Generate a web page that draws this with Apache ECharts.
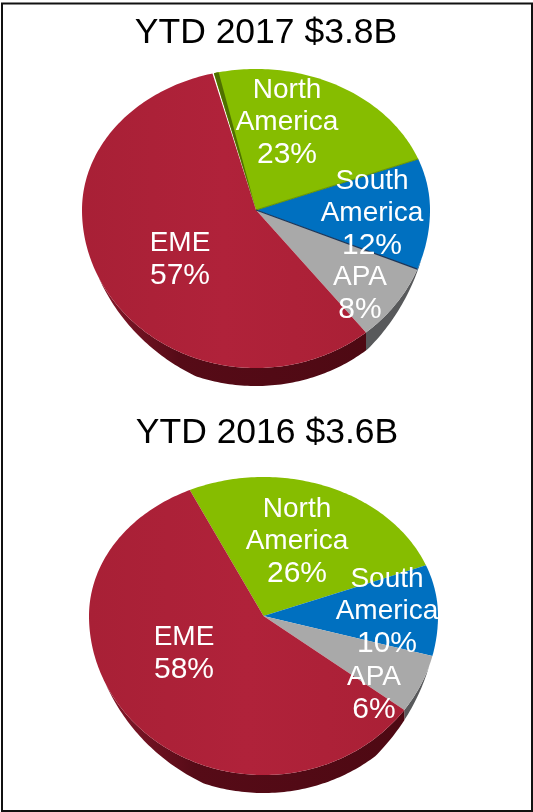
<!DOCTYPE html>
<html>
<head>
<meta charset="utf-8">
<style>
  html, body { margin: 0; padding: 0; background: #fff; }
  #chart { width: 533px; height: 812px; }
</style>
<script src="https://cdn.jsdelivr.net/npm/echarts@6/dist/echarts.min.js"></script>
</head>
<body>
<div id="chart"></div>
<script>
// data
const regions = ['North\nAmerica', 'South\nAmerica', 'APA', 'EME'];
const values2017 = [23, 12, 8, 57];
const values2016 = [26, 10, 6, 58];
const titles = ['YTD 2017 $3.8B', 'YTD 2016 $3.6B'];

// look of the tilted pies, kept apart from the values
const topColors = ['#86bd00', '#0070c0', '#a9a9a9', '#ad2138'];
const wallColors = ['#4f7000', '#00457a', '#58595b', '#560b17'];
const pie2017 = {
  cx: 256, cy: 210, rx: 174, ryTop: 141, ryBottom: 158, depth: 18, start: -14,
  labels: [[287, 123], [372, 214], [360, 294], [180, 260]],
  seams: true
};
const pie2016 = {
  cx: 263.5, cy: 616, rx: 174.5, ryTop: 139, ryBottom: 159, depth: 18, start: -25,
  labels: [[297, 542], [387, 612], [374, 694], [184, 654]],
  seams: false
};

const rad = (d) => d * Math.PI / 180;

// angle is clockwise from the top, the two halves have their own vertical radius
const rim = (p, a, drop) => {
  const c = Math.cos(rad(a));
  return [p.cx + p.rx * Math.sin(rad(a)), p.cy - c * (c > 0 ? p.ryTop : p.ryBottom) + (drop || 0)];
};

const arc = (p, a, b, dropFn) => {
  const pts = [];
  for (let t = a; t < b; t += 1) pts.push(rim(p, t, dropFn ? dropFn(t) : 0));
  pts.push(rim(p, b, dropFn ? dropFn(b) : 0));
  return pts;
};

// side wall fades out towards the widest point of the ellipse
const wallDrop = (p) => (t) => {
  let k = 1;
  if (t < 140) k = (t - 108) / 32;
  if (t > 200) k = (245 - t) / 45;
  return p.depth * Math.max(0, Math.min(1, k));
};

const makeRender = (p, values) => (params, api) => {
  const i = params.dataIndex;
  const total = values.reduce((s, v) => s + v, 0);
  const before = values.slice(0, i).reduce((s, v) => s + v, 0);
  const a0 = p.start + before / total * 360;
  const a1 = a0 + api.value(0) / total * 360;
  const children = [];

  const wa = Math.max(a0, 108);
  const wb = Math.min(a1, 245);
  if (wb > wa) {
    const top = arc(p, wa, wb);
    const bottom = arc(p, wa, wb, wallDrop(p)).reverse();
    children.push({
      type: 'polygon',
      z2: 1,
      shape: { points: top.concat(bottom) },
      style: {
        fill: i === 3
          ? new echarts.graphic.LinearGradient(0, 0, 1, 0, [
              { offset: 0, color: '#86182a' },
              { offset: 0.3, color: '#560b17' },
              { offset: 1, color: '#4e0913' }
            ])
          : wallColors[i]
      }
    });
  }

  const end = (p.seams && i === 3) ? a1 - 0.5 : a1;
  children.push({
    type: 'polygon',
    z2: 2,
    shape: { points: [[p.cx, p.cy]].concat(arc(p, a0, end)) },
    style: {
      fill: i === 3
        ? new echarts.graphic.LinearGradient(0, 0, 1, 0, [
            { offset: 0, color: '#a82036' },
            { offset: 0.5, color: '#b0223a' },
            { offset: 1, color: '#aa2036' }
          ])
        : topColors[i]
    }
  });

  if (p.seams && i === 0) {
    children.push({
      type: 'polygon',
      z2: 3,
      shape: { points: [[p.cx, p.cy]].concat(arc(p, a0, a0 + 1.6)) },
      style: { fill: wallColors[0] }
    });
    const e = rim(p, a1);
    children.push({
      type: 'line',
      z2: 3,
      shape: { x1: p.cx, y1: p.cy, x2: e[0], y2: e[1] },
      style: { stroke: '#6a9600', lineWidth: 1.2 }
    });
  }
  if (p.seams && i === 1) {
    const e = rim(p, a1);
    children.push({
      type: 'line',
      z2: 3,
      shape: { x1: p.cx, y1: p.cy, x2: e[0], y2: e[1] },
      style: { stroke: '#1d3557', lineWidth: 1.2 }
    });
  }

  const nameLines = regions[i].split('\n').map((s) => '{n|' + s + '}');
  children.push({
    type: 'text',
    z2: 10,
    x: p.labels[i][0],
    y: p.labels[i][1],
    style: {
      text: nameLines.concat('{p|' + api.value(0) + '%}').join('\n'),
      align: 'center',
      verticalAlign: 'middle',
      rich: {
        n: { fill: '#fff', fontFamily: '"Liberation Sans", Arial, sans-serif', fontSize: 28, lineHeight: 32 },
        p: { fill: '#fff', fontFamily: '"Liberation Sans", Arial, sans-serif', fontSize: 30, lineHeight: 33 }
      }
    }
  });

  return { type: 'group', children: children };
};

const chart = echarts.init(document.getElementById('chart'));
chart.setOption({
  animation: false,
  backgroundColor: '#fff',
  title: [
    { text: titles[0], left: 266, top: 33 },
    { text: titles[1], left: 267, top: 433 }
  ].map((t) => ({
    text: t.text,
    left: t.left,
    top: t.top,
    textAlign: 'center',
    textVerticalAlign: 'middle',
    padding: 0,
    textStyle: {
      color: '#000',
      fontFamily: '"Liberation Sans", Arial, sans-serif',
      fontSize: 35.5,
      fontWeight: 'normal'
    }
  })),
  graphic: [{
    type: 'rect',
    silent: true,
    shape: { x: 2, y: 3.5, width: 530, height: 807.5 },
    style: { fill: 'none', stroke: '#111', lineWidth: 2 }
  }],
  series: [
    {
      type: 'custom',
      name: titles[0],
      coordinateSystem: 'none',
      silent: true,
      renderItem: makeRender(pie2017, values2017),
      data: values2017.map((v) => [v])
    },
    {
      type: 'custom',
      name: titles[1],
      coordinateSystem: 'none',
      silent: true,
      renderItem: makeRender(pie2016, values2016),
      data: values2016.map((v) => [v])
    }
  ]
});
</script>
</body>
</html>
